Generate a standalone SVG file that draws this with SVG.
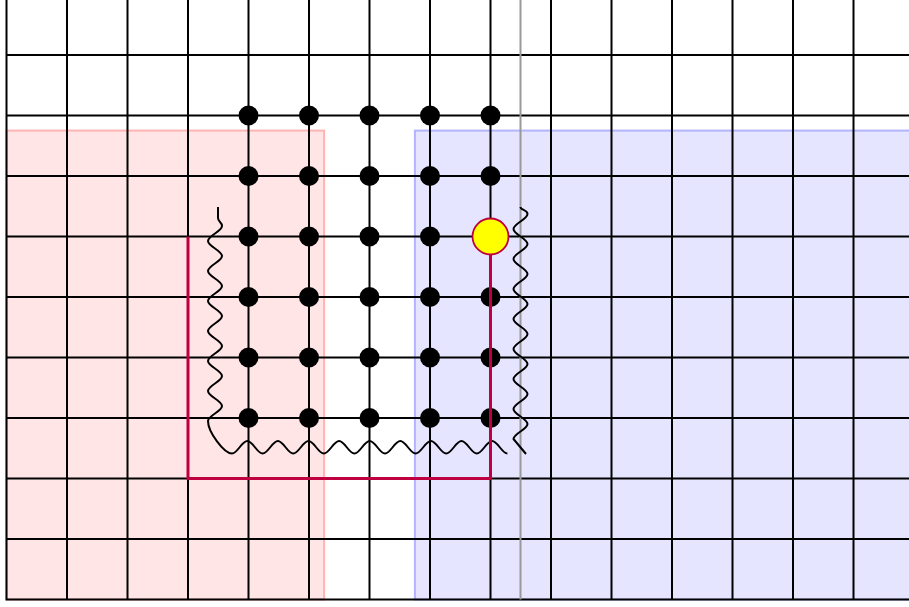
<svg xmlns="http://www.w3.org/2000/svg" width="909" height="607" viewBox="0 0 909 607">
<style>
.grid{stroke:#000;stroke-width:2;fill:none}
.dot{fill:#000}
.wave{stroke:#000;stroke-width:2;fill:none;stroke-linejoin:round}
</style>
<rect width="909" height="607" fill="#fff"/>
<g id="regions">
<rect id="red-region" x="6.5" y="130.6" width="317.6" height="468.9" fill="#ffe5e5" stroke="#ffb3b3" stroke-width="2"/>
<rect id="blue-region" x="414.9" y="130.6" width="520" height="468.9" fill="#e5e5ff" stroke="#b3b3ff" stroke-width="2"/>
</g>
<g id="grid">
<path class="grid" d="M6.5,0V599.5M67,0V599.5M127.5,0V599.5M188,0V599.5M248.5,0V599.5M309,0V599.5M369.5,0V599.5M430,0V599.5M490.5,0V599.5M551,0V599.5M611.5,0V599.5M672,0V599.5M732.5,0V599.5M793,0V599.5M853.5,0V599.5
M6.5,55H909M6.5,115.5H909M6.5,176H909M6.5,236.5H909M6.5,297H909M6.5,357.5H909M6.5,418H909M6.5,478.5H909M6.5,539H909M5.5,599.5H909"/>
<line id="divider" x1="520.5" y1="0" x2="520.5" y2="599.5" stroke="#999" stroke-width="2"/>
</g>
<g id="dots">
<g id="row8"><circle class="dot" cx="248.5" cy="115.5" r="10"/><circle class="dot" cx="309" cy="115.5" r="10"/><circle class="dot" cx="369.5" cy="115.5" r="10"/><circle class="dot" cx="430" cy="115.5" r="10"/><circle class="dot" cx="490.5" cy="115.5" r="10"/></g>
<g id="row7"><circle class="dot" cx="248.5" cy="176" r="10"/><circle class="dot" cx="309" cy="176" r="10"/><circle class="dot" cx="369.5" cy="176" r="10"/><circle class="dot" cx="430" cy="176" r="10"/><circle class="dot" cx="490.5" cy="176" r="10"/></g>
<g id="row6"><circle class="dot" cx="248.5" cy="236.5" r="10"/><circle class="dot" cx="309" cy="236.5" r="10"/><circle class="dot" cx="369.5" cy="236.5" r="10"/><circle class="dot" cx="430" cy="236.5" r="10"/></g>
<g id="row5"><circle class="dot" cx="248.5" cy="297" r="10"/><circle class="dot" cx="309" cy="297" r="10"/><circle class="dot" cx="369.5" cy="297" r="10"/><circle class="dot" cx="430" cy="297" r="10"/><circle class="dot" cx="490.5" cy="297" r="10"/></g>
<g id="row4"><circle class="dot" cx="248.5" cy="357.5" r="10"/><circle class="dot" cx="309" cy="357.5" r="10"/><circle class="dot" cx="369.5" cy="357.5" r="10"/><circle class="dot" cx="430" cy="357.5" r="10"/><circle class="dot" cx="490.5" cy="357.5" r="10"/></g>
<g id="row3"><circle class="dot" cx="248.5" cy="418" r="10"/><circle class="dot" cx="309" cy="418" r="10"/><circle class="dot" cx="369.5" cy="418" r="10"/><circle class="dot" cx="430" cy="418" r="10"/><circle class="dot" cx="490.5" cy="418" r="10"/></g>
</g>
<g id="connectors">
<path id="wave-left-bottom" class="wave" d="M218,207V218C218,222 222,222 222,226
c0,5.5 -14,9.5 -14,15 s14,9.5 14,15 s-14,9.5 -14,15 s14,9.5 14,15 s-14,9.5 -14,15 s14,9.5 14,15 s-14,9.5 -14,15 s14,9.5 14,15 s-14,9.5 -14,15 s14,9.5 14,15 s-14,9.5 -14,15 s14,9.5 14,15 s-14,9.5 -14,15
C208,432 224,453.5 232,453.5
c5.5,0 9.8,-12.5 15.3,-12.5 s9.8,12.5 15.3,12.5 s9.8,-12.5 15.3,-12.5 s9.8,12.5 15.3,12.5 s9.8,-12.5 15.3,-12.5 s9.8,12.5 15.3,12.5 s9.8,-12.5 15.3,-12.5 s9.8,12.5 15.3,12.5 s9.8,-12.5 15.3,-12.5 s9.8,12.5 15.3,12.5 s9.8,-12.5 15.3,-12.5 s9.8,12.5 15.3,12.5 s9.8,-12.5 15.3,-12.5 s9.8,12.5 15.3,12.5 s9.8,-12.5 15.3,-12.5 s9.8,12.5 15.3,12.5 s9.8,-12.5 15.3,-12.5 s9.8,12.5 15.3,12.5"/>
<path id="wave-right" class="wave" d="M520.5,207C520.5,210 527.5,210 527.5,214
c0,5.5 -14,9.5 -14,15 s14,9.5 14,15 s-14,9.5 -14,15 s14,9.5 14,15 s-14,9.5 -14,15 s14,9.5 14,15 s-14,9.5 -14,15 s14,9.5 14,15 s-14,9.5 -14,15 s14,9.5 14,15 s-14,9.5 -14,15 s14,9.5 14,15 s-14,9.5 -14,15 s14,9.5 14,15 s-14,9.5 -14,15 L526,454"/>
<path id="red-route" d="M188,236.5V478.5H490.5V252" fill="none" stroke="#bf0040" stroke-width="3"/>
</g>
<g id="marker">
<circle cx="490.5" cy="236.5" r="18" fill="#ffff00" stroke="#bf0040" stroke-width="1.8"/>
</g>
</svg>
